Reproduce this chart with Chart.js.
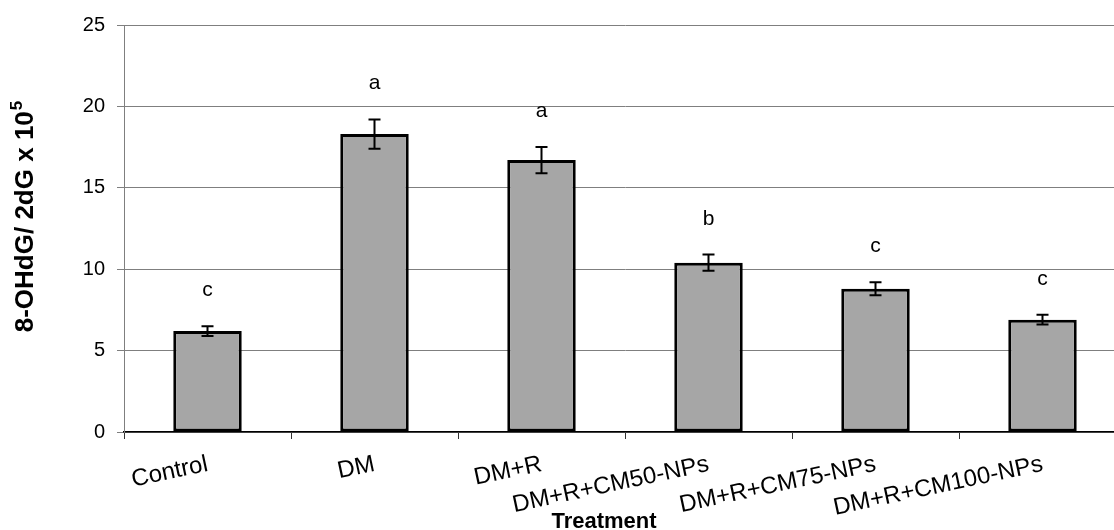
<!DOCTYPE html>
<html>
<head>
<meta charset="utf-8">
<title>8-OHdG / 2dG by treatment</title>
<script src="https://cdn.jsdelivr.net/npm/chart.js@4.4.1/dist/chart.umd.min.js"></script>
<style>
  html, body { margin: 0; padding: 0; background: #fff; overflow: hidden; }
  #wrap { position: relative; width: 1130px; height: 530px; }
</style>
</head>
<body>
<div id="wrap"><canvas id="chart"></canvas></div>
<script>
// Treatment groups and measured 8-OHdG/2dG ratios (x 10^5)
const categories = ['Control', 'DM', 'DM+R', 'DM+R+CM50-NPs', 'DM+R+CM75-NPs', 'DM+R+CM100-NPs'];
const means = [6.2, 18.3, 16.7, 10.4, 8.8, 6.9];
const errors = [0.3, 0.9, 0.8, 0.5, 0.4, 0.3];
const groupLetters = ['c', 'a', 'a', 'b', 'c', 'c'];
const yTicks = [0, 5, 10, 15, 20, 25];

const FONT = "'Liberation Sans', Arial, Helvetica, sans-serif";

// Error bars and significance letters drawn on top of the bars
const errorBarPlugin = {
  id: 'errorBars',
  afterDatasetsDraw(chart) {
    const ctx = chart.ctx;
    const meta = chart.getDatasetMeta(0);
    const y = chart.scales.y;
    ctx.save();
    ctx.strokeStyle = '#000';
    ctx.lineWidth = 2;
    meta.data.forEach((bar, i) => {
      const x = bar.x;
      const top = y.getPixelForValue(means[i] + errors[i]);
      const bot = y.getPixelForValue(means[i] - errors[i]);
      ctx.beginPath();
      ctx.moveTo(x, top); ctx.lineTo(x, bot);
      ctx.moveTo(x - 6, top); ctx.lineTo(x + 6, top);
      ctx.moveTo(x - 6, bot); ctx.lineTo(x + 6, bot);
      ctx.stroke();
      ctx.fillStyle = '#000';
      ctx.font = '21px ' + FONT;
      ctx.textAlign = 'center';
      ctx.textBaseline = 'alphabetic';
      ctx.fillText(groupLetters[i], x, top - 30);
    });
    ctx.restore();
  }
};

// Axis titles (the y title carries a superscript exponent)
const axisTitlePlugin = {
  id: 'axisTitles',
  afterDraw(chart) {
    const ctx = chart.ctx;
    ctx.save();
    ctx.fillStyle = '#000';
    // x axis title
    ctx.font = 'bold 22px ' + FONT;
    ctx.textAlign = 'center';
    ctx.textBaseline = 'alphabetic';
    ctx.fillText('Treatment', 604, 528);
    // y axis title
    const main = '8-OHdG/ 2dG x 10';
    const sup = '5';
    ctx.translate(33, 217);
    ctx.rotate(-Math.PI / 2);
    ctx.font = 'bold 26px ' + FONT;
    const wMain = ctx.measureText(main).width;
    ctx.font = 'bold 17px ' + FONT;
    const wSup = ctx.measureText(sup).width;
    const start = -(wMain + wSup) / 2;
    ctx.textAlign = 'left';
    ctx.font = 'bold 26px ' + FONT;
    ctx.fillText(main, start, 0);
    ctx.font = 'bold 17px ' + FONT;
    ctx.fillText(sup, start + wMain + 1, -11);
    ctx.restore();
  }
};

new Chart(document.getElementById('chart'), {
  type: 'bar',
  data: {
    labels: categories,
    datasets: [{
      data: means,
      backgroundColor: '#a6a6a6',
      borderColor: '#000',
      borderWidth: 3,
      borderSkipped: false,
      barPercentage: 0.41,
      categoryPercentage: 1.0
    }]
  },
  options: {
    responsive: true,
    maintainAspectRatio: false,
    animation: false,
    layout: { padding: { top: 25, right: 4, left: 0, bottom: 0 } },
    plugins: { legend: { display: false }, tooltip: { enabled: false } },
    scales: {
      x: {
        offset: true,
        grid: {
          display: true,
          offset: true,
          drawOnChartArea: false,
          drawTicks: true,
          tickLength: 7,
          tickColor: '#333',
          lineWidth: 1
        },
        border: { display: true, color: '#000', width: 1.5 },
        ticks: {
          minRotation: 12,
          maxRotation: 12,
          autoSkip: false,
          padding: 11,
          color: '#000',
          font: { family: FONT, size: 24 }
        },
        afterFit(scale) { scale.height = 98; }
      },
      y: {
        min: 0,
        max: 25,
        afterBuildTicks(scale) { scale.ticks = yTicks.map(v => ({ value: v })); },
        grid: {
          color: '#7f7f7f',
          lineWidth: 1,
          drawTicks: true,
          tickLength: 7,
          tickColor: '#7f7f7f'
        },
        border: { display: true, color: '#7f7f7f', width: 1 },
        ticks: {
          padding: 12,
          color: '#000',
          font: { family: FONT, size: 20 }
        },
        afterFit(scale) { scale.width = 124; }
      }
    }
  },
  plugins: [errorBarPlugin, axisTitlePlugin]
});
</script>
</body>
</html>
